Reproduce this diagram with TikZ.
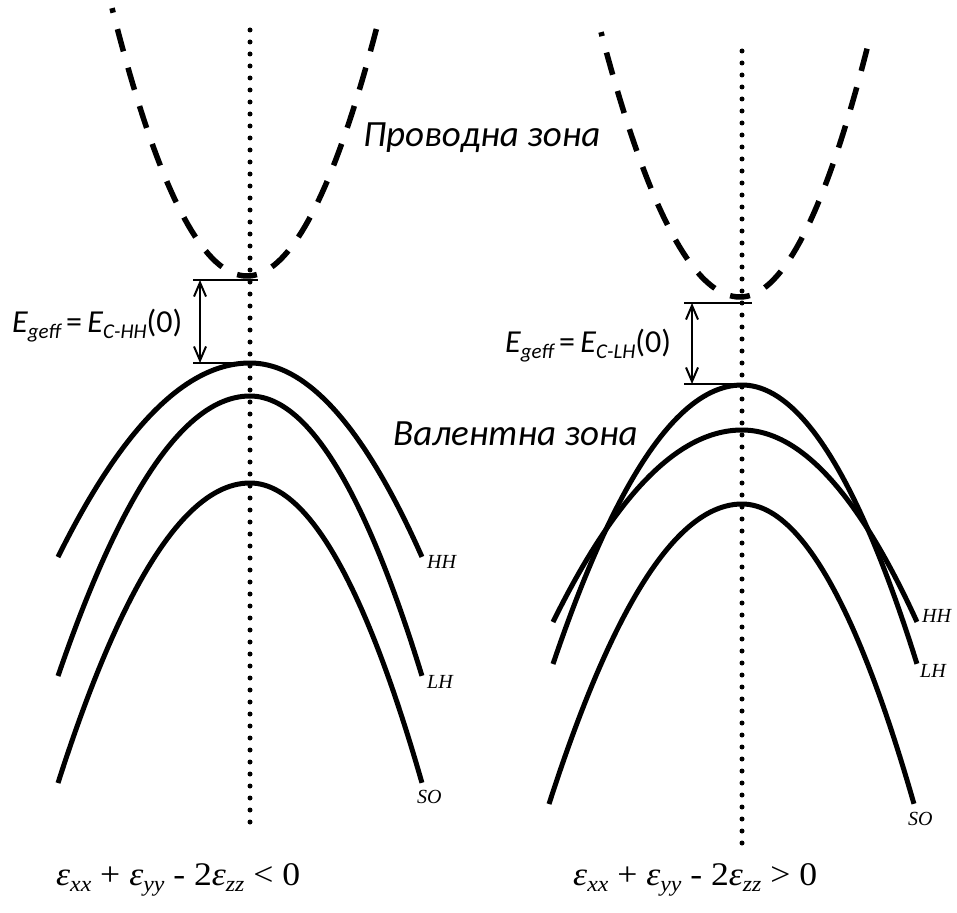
\documentclass[tikz,border=0pt]{standalone}
\usepackage{fontspec}
\usetikzlibrary{arrows.meta}
\newfontfamily\calfont{Carlito}
\newfontfamily\timesfont{Liberation Serif}
\newcommand\lsub[3]{\raisebox{-#2pt}{\fontsize{#1pt}{#1pt}\selectfont #3}}
\newcommand\fe[1]{\textit{ε}\lsub{22}{6}{\itshape #1}}
\newcommand\bandcurve[6][]{%
  \draw[#1] plot[domain=-1:0,samples=50] ({#2+#4*\x},{#3+#6*\x*\x})
    -- plot[domain=0:1,samples=50] ({#2+#5*\x},{#3+#6*\x*\x});}
\tikzset{
 lbl/.style={inner sep=0pt, anchor=base west, font=\calfont\itshape\fontsize{32}{32}\selectfont},
 zlbl/.style={inner sep=0pt, anchor=base west, font=\calfont\itshape\fontsize{37}{37}\selectfont},
 blbl/.style={inner sep=0pt, anchor=base west, font=\timesfont\itshape\fontsize{20}{20}\selectfont},
 frm/.style={inner sep=0pt, anchor=base west, font=\timesfont\fontsize{33}{33}\selectfont},
 band/.style={line width=5pt},
 cband/.style={line width=5.5pt, dash pattern=on 23pt off 17pt, dash phase=13pt},
 dotline/.style={line width=5pt, line cap=round, dash pattern=on 0pt off 12pt},
 gapline/.style={line width=2pt},
 gaparrow/.style={line width=2pt, {Straight Barb[length=14pt,width=12pt]}-{Straight Barb[length=14pt,width=12pt]}},
}
\begin{document}
\begin{tikzpicture}[x=1pt,y=-1pt]
\useasboundingbox (0,0) rectangle (957,912);
% ---------- left panel ----------
\coordinate (dlT) at (250,30);
\coordinate (dlB) at (250,828);
\draw[dotline] (dlT) -- (dlB);
\draw[cband] plot[domain=0:1,samples=40] ({247-135*\x},{276-268*\x*\x});
\draw[cband] plot[domain=0:1,samples=40] ({247+133*\x},{276-261*\x*\x});
\bandcurve[band]{250}{363}{192}{172}{194}
\bandcurve[band]{250}{396}{192}{172}{280}
\bandcurve[band]{250}{483}{192}{172}{300}
\coordinate (glT1) at (193,280);
\coordinate (glT2) at (258,280);
\coordinate (glB1) at (193,363);
\coordinate (glB2) at (250,363);
\draw[gapline] (glT1) -- (glT2);
\draw[gapline] (glB1) -- (glB2);
\coordinate (gaL1) at (200,280);
\coordinate (gaL2) at (200,363);
\draw[gaparrow] (gaL1) -- (gaL2);
\node[lbl] (egL) at (12,332) {E\lsub{21}{6}{geff}\,{\upshape =}\,E\lsub{21}{6}{C-HH}{\upshape (0)}};
\node[blbl] (hhL) at (427,568) {HH};
\node[blbl] (lhL) at (427,688) {LH};
\node[blbl] (soL) at (417,803) {SO};
\node[frm] (fL) at (56,885) {\scalebox{1.08}[1]{\fe{xx} + \fe{yy} - 2\fe{zz} < 0}};
% ---------- right panel ----------
\coordinate (drT) at (742,51);
\coordinate (drB) at (742,848);
\draw[dotline] (drT) -- (drB);
\draw[cband] plot[domain=0:1,samples=40] ({740-139*\x},{297-265*\x*\x});
\draw[cband] plot[domain=0:1,samples=40] ({740+130*\x},{297-260*\x*\x});
\bandcurve[band]{742}{385}{189}{175}{279}
\bandcurve[band]{742}{430}{189}{175}{192}
\bandcurve[band]{742}{504}{193}{172}{300}
\coordinate (grT1) at (684,303);
\coordinate (grT2) at (752,303);
\coordinate (grB1) at (684,384);
\coordinate (grB2) at (742,384);
\draw[gapline] (grT1) -- (grT2);
\draw[gapline] (grB1) -- (grB2);
\coordinate (gaR1) at (692,303);
\coordinate (gaR2) at (692,384);
\draw[gaparrow] (gaR1) -- (gaR2);
\node[lbl] (egR) at (505,352) {E\lsub{21}{6}{geff}\,{\upshape =}\,E\lsub{21}{6}{C-LH}{\upshape (0)}};
\node[blbl] (hhR) at (922,622) {HH};
\node[blbl] (lhR) at (920,677) {LH};
\node[blbl] (soR) at (908,825) {SO};
\node[frm] (fR) at (573,885) {\scalebox{1.08}[1]{\fe{xx} + \fe{yy} - 2\fe{zz} > 0}};
% ---------- zone labels ----------
\node[zlbl] (cond) at (363,147) {Проводна зона};
\node[zlbl] (val) at (393,445) {Валентна зона};
\end{tikzpicture}
\end{document}
